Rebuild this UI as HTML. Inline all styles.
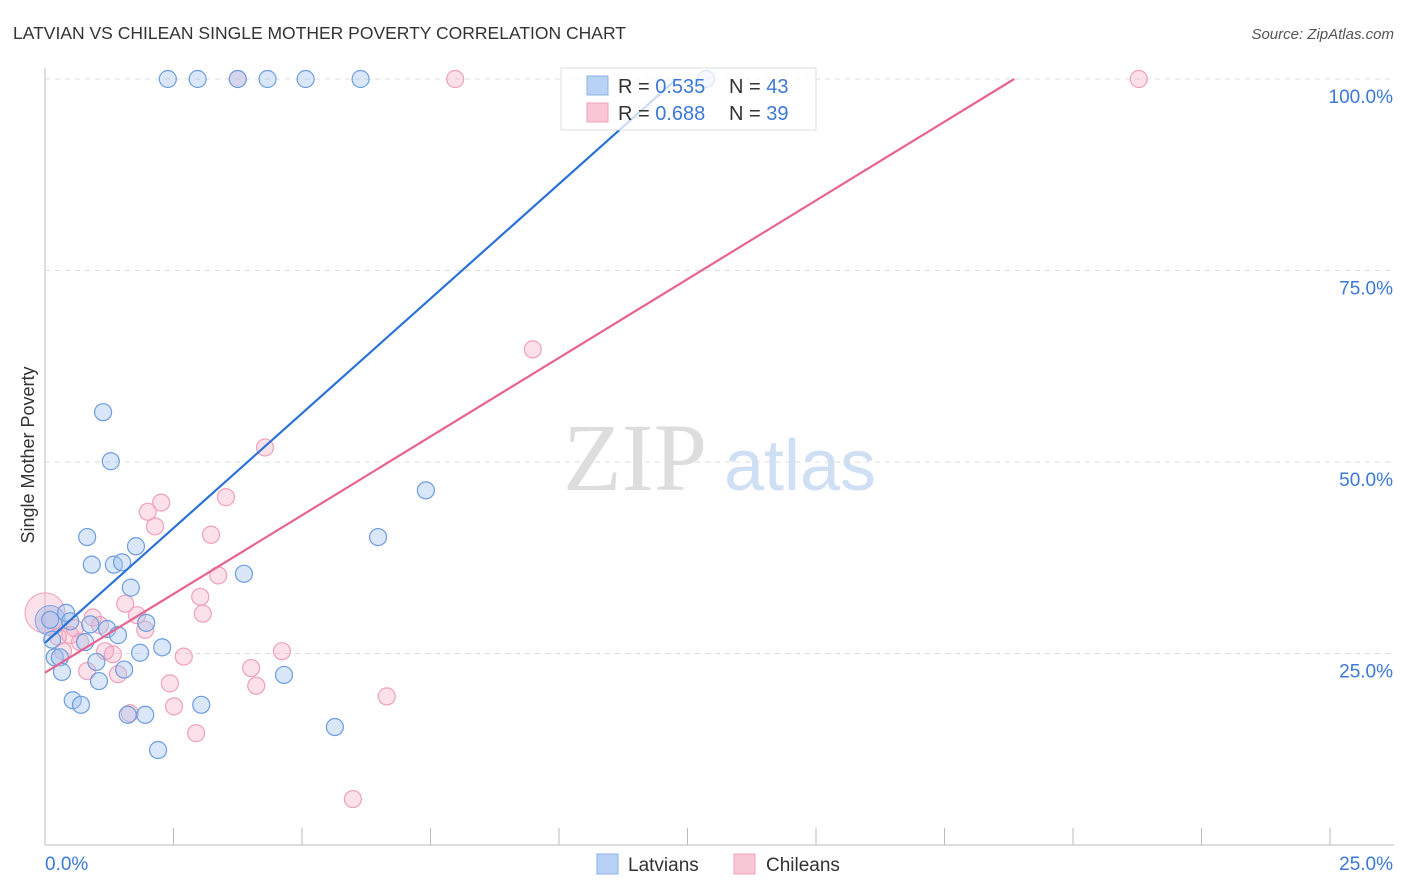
<!DOCTYPE html>
<html><head><meta charset="utf-8"><style>
body{margin:0;background:#fff;font-family:"Liberation Sans",sans-serif;}
</style></head><body>
<svg id="chart" width="1406" height="892" style="display:block">
<text x="13" y="39" font-size="17.5" fill="#333">LATVIAN VS CHILEAN SINGLE MOTHER POVERTY CORRELATION CHART</text>
<text x="1394" y="39" font-size="15" fill="#555" text-anchor="end" font-style="italic">Source: ZipAtlas.com</text>
<text x="0" y="0" transform="translate(34,455) rotate(-90)" font-size="18" fill="#333" text-anchor="middle">Single Mother Poverty</text>
<g><text x="635" y="490" font-size="96" fill="#ddd" font-family="Liberation Serif,serif" text-anchor="middle">ZIP</text><text x="800" y="490" font-size="72" fill="#cfe0f5" text-anchor="middle">atlas</text></g>
<g id="grid"></g><g id="marks"></g>
<g>
<rect x="561" y="68" width="255" height="62" fill="rgba(255,255,255,0.75)" stroke="#ddd"/>
<rect x="587" y="76" width="21" height="19" fill="#b8d3f5" stroke="#8ab2e6"/>
<rect x="587" y="103" width="21" height="19" fill="#f8c6d5" stroke="#f0a0b8"/>
<text x="618" y="93" font-size="20" fill="#333">R = <tspan fill="#3b78d8">0.535</tspan></text>
<text x="729" y="93" font-size="20" fill="#333">N = <tspan fill="#3b78d8">43</tspan></text>
<text x="618" y="120" font-size="20" fill="#333">R = <tspan fill="#3b78d8">0.688</tspan></text>
<text x="729" y="120" font-size="20" fill="#333">N = <tspan fill="#3b78d8">39</tspan></text>
</g>
<g>
<rect x="597" y="854" width="21" height="20" fill="#b8d3f5" stroke="#8ab2e6"/><text x="628" y="871" font-size="19" fill="#333">Latvians</text>
<rect x="734" y="854" width="21" height="20" fill="#f8c6d5" stroke="#f0a0b8"/><text x="766" y="871" font-size="19" fill="#333">Chileans</text>
</g>
</svg>
<script>
const xTicks=[0,2.5,5,7.5,10,12.5,15,17.5,20,22.5,25];
const yTicks=[25,50,75,100];
const yTickLabels=["25.0%","50.0%","75.0%","100.0%"];
const latX=[2.39,2.97,3.75,4.33,5.07,6.14,12.86,1.13,1.28,0.82,1.77,0.91,1.34,1.50,1.67,3.87,7.41,6.48,0.41,0.49,0.88,1.21,1.42,1.97,0.78,0.19,0.29,0.33,1.00,1.05,1.54,1.85,2.28,3.04,4.65,0.54,0.70,1.61,1.95,2.20,5.64,0.10,0.14];
const latY=[100,100,100,100,100,100,100,56.5,50.1,40.2,39.0,36.6,36.6,36.9,33.6,35.4,46.3,40.2,30.3,29.2,28.8,28.2,27.4,29.0,26.5,24.5,24.5,22.6,23.9,21.4,22.9,25.1,25.8,18.3,22.2,18.9,18.3,17.0,17.0,12.4,15.4,29.4,26.8];
const chiX=[3.75,7.98,21.28,9.49,4.28,2.26,2.00,2.14,3.52,3.23,3.37,1.56,0.93,1.79,3.02,3.07,1.07,0.49,0.68,1.17,1.32,0.35,0.82,1.42,1.95,2.70,2.43,2.51,2.94,4.01,4.11,4.61,6.65,5.99,1.65,0.58,0.25];
const chiY=[100,100,100,64.7,51.9,44.7,43.5,41.6,45.4,40.5,35.2,31.5,29.7,30.0,32.4,30.2,28.7,27.4,26.5,25.3,24.9,25.3,22.7,22.3,28.1,24.6,21.1,18.1,14.6,23.1,20.8,25.3,19.4,6.0,17.2,28.3,27.2];
const trendLat=[26.4,5.99]; // intercept %, slope per %
const trendChi=[22.5,4.11];
const X=v=>45+v/25*1285, Y=v=>845-v/100*766;
const ns="http://www.w3.org/2000/svg";
function mk(p,t,a){const e=document.createElementNS(ns,t);for(const k in a)e.setAttribute(k,a[k]);p.appendChild(e);return e;}
const g=document.getElementById('grid'),m=document.getElementById('marks');
let e=mk(g,'line',{x1:45,y1:68,x2:45,y2:845,stroke:'#bbb'});

e=mk(g,'line',{x1:45,y1:845,x2:1394,y2:845,stroke:'#bbb'});

xTicks.forEach(v=>{const t=mk(g,'line',{x1:X(v),y1:828,x2:X(v),y2:845,stroke:'#bbb'});});
yTicks.forEach((v,i)=>{const l=mk(g,'line',{x1:45,y1:Y(v),x2:1394,y2:Y(v),stroke:'#ddd','stroke-dasharray':'5,5'});
const t=mk(g,'text',{x:1393,y:Y(v)+24,'font-size':19,fill:'#3b78d8','text-anchor':'end'});t.textContent=yTickLabels[i];});
[[0,'0.0%','start',45],[25,'25.0%','end',1393]].forEach(a=>{const t=mk(g,'text',{x:a[3],y:870,'font-size':19,fill:'#3b78d8','text-anchor':a[2]});t.textContent=a[1];});
let c=mk(m,'circle',{cx:X(0),cy:Y(30.3),r:20,fill:'rgba(246,170,195,0.35)',stroke:'#f0a0b8'});
c=mk(m,'circle',{cx:X(0.1),cy:Y(29.3),r:15,fill:'rgba(140,170,225,0.35)',stroke:'#7aa6e6'});
chiX.forEach((v,i)=>{const p=mk(m,'circle',{cx:X(v),cy:Y(chiY[i]),r:8.5,fill:'rgba(246,170,195,0.35)',stroke:'#f0a0b8','stroke-width':1.2});});
latX.forEach((v,i)=>{const p=mk(m,'circle',{cx:X(v),cy:Y(latY[i]),r:8.5,fill:'rgba(160,195,240,0.4)',stroke:'#6d9de0','stroke-width':1.2});});
function trend(tr,col,name){const x2=Math.min(25,(100-tr[0])/tr[1]);const l=mk(m,'line',{x1:X(0),y1:Y(tr[0]),x2:X(x2),y2:Y(tr[0]+tr[1]*x2),stroke:col,'stroke-width':2.2});}
trend(trendLat,'#2a72d8','latvian-trendline');trend(trendChi,'#e8648f','chilean-trendline');
</script>
</body></html>
